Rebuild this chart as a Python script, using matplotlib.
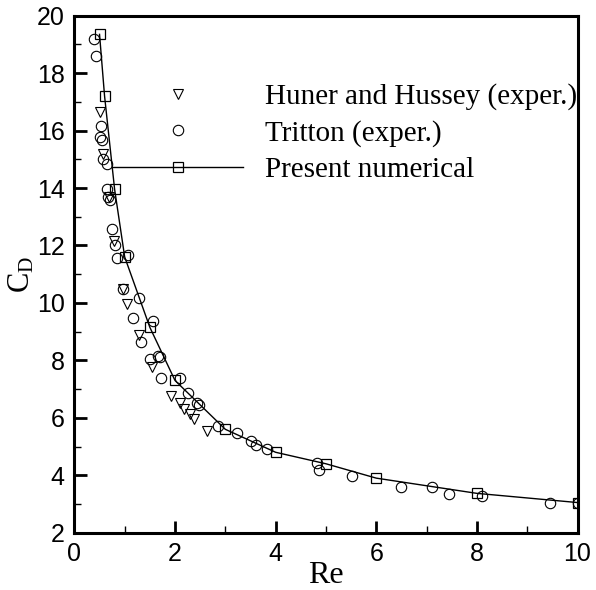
import matplotlib
matplotlib.use("Agg")
import matplotlib.pyplot as plt
from matplotlib.ticker import MultipleLocator

# Present numerical results (squares + line)
num_re = [0.5, 0.6, 0.8, 1.0, 1.5, 2.0, 3.0, 4.0, 5.0, 6.0, 8.0, 10.0]
num_cd = [19.35, 17.2, 13.95, 11.6, 9.15, 7.3, 5.6, 4.8, 4.4, 3.9, 3.37, 3.05]

# Huner and Hussey (exper.)
hh_re = [0.51, 0.575, 0.68, 0.79, 0.97, 1.05, 1.29, 1.55, 1.93, 2.09, 2.17, 2.30, 2.38, 2.64]
hh_cd = [16.66, 15.2, 13.7, 12.15, 10.5, 9.98, 8.87, 7.76, 6.77, 6.53, 6.31, 6.12, 5.95, 5.55]

# Tritton (exper.)
tr_re = [0.38, 0.42, 0.52, 0.50, 0.54, 0.575, 0.65, 0.64, 0.67, 0.71, 0.74, 0.81, 0.84,
         1.07, 0.97, 1.28, 1.17, 1.56, 1.32, 1.50, 1.67, 1.70, 1.72, 2.10, 2.26, 2.43,
         2.47, 2.86, 3.24, 3.52, 3.61, 3.82, 4.82, 4.86, 5.52, 6.50, 7.10, 7.45, 8.11,
         9.46, 10.0]
tr_cd = [19.2, 18.6, 16.17, 15.79, 15.67, 15.0, 14.82, 13.97, 13.7, 13.6, 12.58, 12.0, 11.57,
         11.67, 10.5, 10.17, 9.47, 9.38, 8.65, 8.04, 8.15, 8.1, 7.4, 7.38, 6.85, 6.50,
         6.45, 5.72, 5.46, 5.19, 5.05, 4.90, 4.44, 4.18, 3.96, 3.60, 3.58, 3.35, 3.29,
         3.02, 3.04]

plt.rcParams['mathtext.fontset'] = 'custom'
plt.rcParams['mathtext.rm'] = 'Liberation Serif'
plt.rcParams['mathtext.it'] = 'Liberation Serif'

fig = plt.figure(figsize=(5.96, 5.90), dpi=100)
ax = fig.add_axes([0.1248, 0.0971, 0.8442, 0.8763])

ax.plot(hh_re, hh_cd, linestyle='none', marker='v', markersize=6.5,
        markerfacecolor='none', markeredgecolor='black', markeredgewidth=0.8,
        label='Huner and Hussey (exper.)')
ax.plot(tr_re, tr_cd, linestyle='none', marker='o', markersize=7.5,
        markerfacecolor='none', markeredgecolor='black', markeredgewidth=0.8,
        label='Tritton (exper.)')
ax.plot(num_re, num_cd, linestyle='-', color='black', linewidth=1.0,
        marker='s', markersize=7, markerfacecolor='none',
        markeredgecolor='black', markeredgewidth=0.9,
        label='Present numerical')

ax.set_xlim(0, 10)
ax.set_ylim(2, 20)
ax.xaxis.set_major_locator(MultipleLocator(2))
ax.xaxis.set_minor_locator(MultipleLocator(1))
ax.yaxis.set_major_locator(MultipleLocator(2))
ax.yaxis.set_minor_locator(MultipleLocator(1))

for s in ax.spines.values():
    s.set_linewidth(2.2)

ax.tick_params(which='major', direction='in', length=9, width=2.0, pad=7,
               top=False, right=False)
ax.tick_params(which='minor', direction='in', length=5, width=1.0,
               top=False, right=False)
for lab in ax.get_xticklabels() + ax.get_yticklabels():
    lab.set_fontfamily('Liberation Sans')
    lab.set_fontsize(18)

ax.set_xlabel('Re', fontfamily='Liberation Serif', fontsize=23, labelpad=-4)
ax.set_ylabel(r'$\mathregular{C_D}$', fontfamily='Liberation Serif', fontsize=22, labelpad=0)

leg = ax.legend(loc='upper left', bbox_to_anchor=(0.075, 0.869), frameon=False,
                prop={'family': 'Liberation Serif', 'size': 21},
                handlelength=4.5, handletextpad=0.75, labelspacing=0.33,
                borderpad=0, borderaxespad=0, numpoints=1)

fig.savefig('out.png', dpi=100)
